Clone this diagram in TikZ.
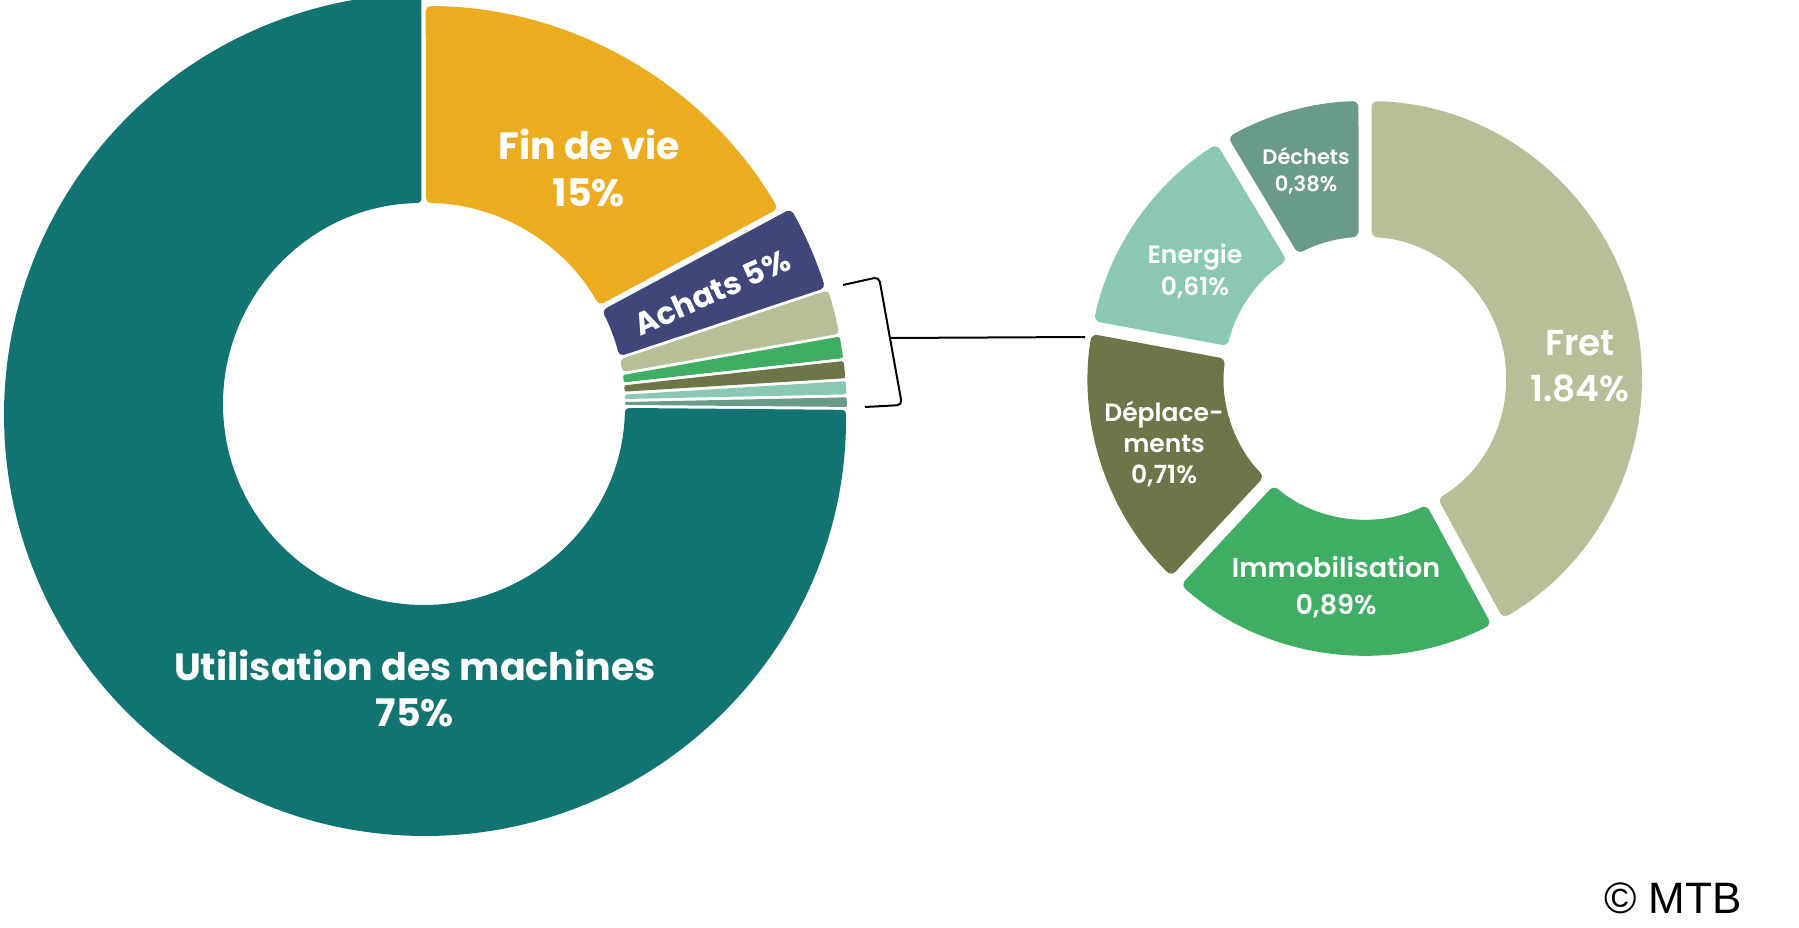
\documentclass[tikz,border=0pt]{standalone}
\usepackage{fontspec}
\setmainfont{Poppins}
\newfontfamily\semib{Poppins SemiBold}
\newfontfamily\mtbfont{Liberation Sans}
\definecolor{cteal}{HTML}{127470}
\definecolor{corange}{HTML}{ECAC20}
\definecolor{cnavy}{HTML}{41467A}
\definecolor{cfret}{HTML}{B7BF98}
\definecolor{cimmo}{HTML}{3FAD64}
\definecolor{cdepl}{HTML}{6E7549}
\definecolor{cener}{HTML}{8BC7B5}
\definecolor{cdech}{HTML}{6A9A8C}
% big donut slice: color, outer radius, outer start, outer end, inner end, inner start, corner
\newcommand\bigslice[7]{%
  \fill[#1, rounded corners=#7] ([shift={(425,415)}]#3:#2) arc[start angle=#3, end angle=#4, radius=#2]
    -- ([shift={(424,404)}]#5:201) arc[start angle=#5, end angle=#6, radius=201] -- cycle;}
% small donut slice
\newcommand\smallslice[5]{%
  \fill[#1, rounded corners=6] ([shift={(1365,378)}]#2:277) arc[start angle=#2, end angle=#3, radius=277]
    -- ([shift={(1365,378)}]#4:141) arc[start angle=#4, end angle=#5, radius=141] -- cycle;}
\begin{document}
\begin{tikzpicture}[x=1pt,y=-1pt,
  lbl/.style={text=white, font=\bfseries, align=center, inner sep=0pt},
  slbl/.style={text=white, align=center, inner sep=0pt},
  bracketline/.style={draw=black, line width=2pt, rounded corners=5pt}]
\useasboundingbox (0,0) rectangle (1799,928);
\fill[white] (0,0) rectangle (1799,928);
% ---- big donut ----
\bigslice{cteal}{421}{-0.7}{269.49}{269.26}{1.13}{4}
\bigslice{corange}{409}{-89.9}{-30.3}{-29.4}{-89.45}{5}
\bigslice{cnavy}{420}{-29.4}{-17.6}{-13.7}{-27.75}{5}
\bigslice{cfret}{422}{-17.2}{-11.1}{-9.13}{-12.82}{4}
\bigslice{cimmo}{422}{-10.7}{-7.75}{-6.18}{-8.27}{2}
\bigslice{cdepl}{422}{-7.35}{-5.0}{-3.53}{-5.32}{2}
\bigslice{cener}{422}{-4.6}{-2.8}{-1.43}{-2.67}{1.5}
\bigslice{cdech}{422}{-2.4}{-1.1}{0.27}{-0.57}{1}
% labels big donut
\node[lbl, font=\bfseries\fontsize{38}{47}\selectfont] (findevie) at (589,168) {Fin de vie\\15\%};
\node[lbl, font=\bfseries\fontsize{31}{36}\selectfont, rotate=24] (achats) at (712,292) {Achats 5\%};
\node[lbl, font=\bfseries\fontsize{38}{46}\selectfont] (utilisation) at (415,688) {Utilisation des machines\\75\%};
% ---- bracket and connector ----
\coordinate (b1) at (843,285);
\coordinate (b2) at (879,277);
\coordinate (b3) at (902,405);
\coordinate (b4) at (865,407);
\coordinate (bm) at (890,338);
\coordinate (dz) at (1085,337);
\draw[bracketline] (b1) -- (b2) -- (b3) -- (b4);
\draw[draw=black, line width=2pt] (bm) -- (dz);
% ---- small donut ----
\smallslice{cfret}{-88.65}{60.15}{58.86}{-87.36}
\smallslice{cimmo}{62.85}{131.65}{130.36}{64.14}
\smallslice{cdepl}{134.35}{189.15}{187.86}{135.64}
\smallslice{cener}{191.85}{237.65}{236.36}{193.14}
\smallslice{cdech}{240.35}{268.65}{267.36}{241.64}
\node[slbl, font=\semib\fontsize{21}{27}\selectfont] (dechets) at (1306,171) {Déchets\\0,38\%};
\node[slbl, font=\semib\fontsize{25}{32}\selectfont] (energie) at (1195,271) {Energie\\0,61\%};
\node[slbl, font=\semib\fontsize{36}{46}\selectfont] (fret) at (1580,366) {Fret\\1.84\%};
\node[slbl, font=\semib\fontsize{25}{31}\selectfont] (deplacements) at (1164,444) {Déplace-\\ments\\0,71\%};
\node[slbl, font=\semib\fontsize{27}{37}\selectfont] (immobilisation) at (1336,587) {Immobilisation\\0,89\%};
% ---- copyright ----
\node[inner sep=0pt, font=\mtbfont\fontsize{44}{48}\selectfont] (mtb) at (1673,898) {© MTB};
\end{tikzpicture}
\end{document}
